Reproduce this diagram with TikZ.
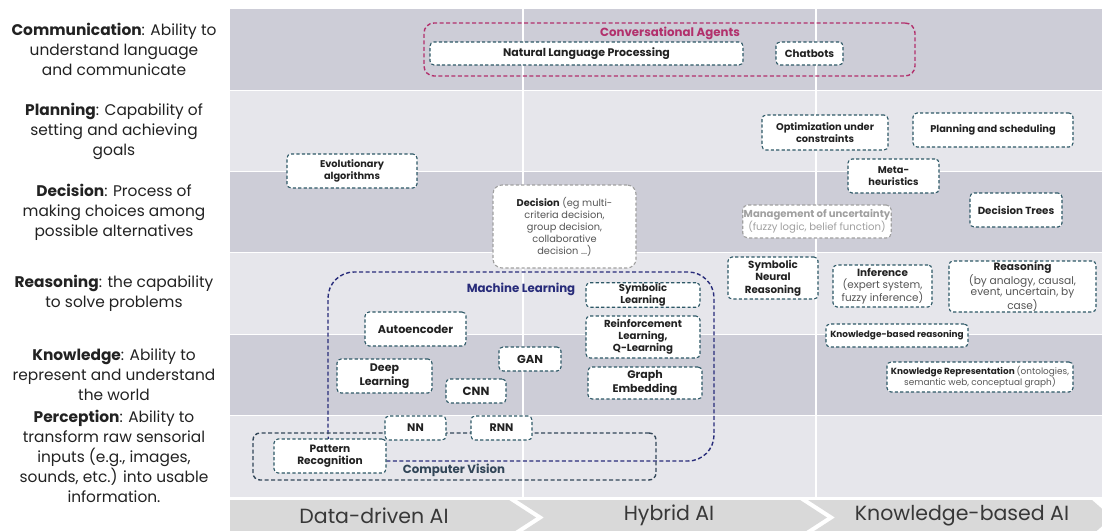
\documentclass[tikz,border=0pt]{standalone}
\usepackage{fontspec}
\setmainfont{Poppins}
\definecolor{rowdark}{RGB}{205,205,215}
\definecolor{rowlight}{RGB}{230,230,235}
\definecolor{teal}{RGB}{45,88,102}
\definecolor{agent}{RGB}{178,48,108}
\definecolor{mlnavy}{RGB}{40,44,122}
\definecolor{cvslate}{RGB}{50,70,88}
\definecolor{softgrey}{RGB}{160,160,160}
\definecolor{banner}{RGB}{217,217,217}
\definecolor{ink}{RGB}{34,34,34}
\definecolor{greyink}{RGB}{85,85,85}
\newcommand{\fs}[1]{\fontsize{#1}{1.2\dimexpr#1pt\relax}\selectfont}
\tikzset{
  tbox/.style={draw=teal, fill=white, dash pattern=on 3.2pt off 2.2pt, line width=1.1pt,
    rounded corners=4pt, align=center, inner sep=1pt, text=ink,
    font=\fontsize{9.8}{11.5}\selectfont\bfseries},
  sz/.style={font=\fs{#1}\bfseries},
  gbox/.style={tbox, draw=softgrey, rounded corners=9pt, font=\fontsize{9.8}{12}\selectfont, text=greyink},
  group/.style={dash pattern=on 4pt off 2.5pt, line width=1.4pt, rounded corners=10pt, inner sep=0pt},
  grouplbl/.style={font=\fontsize{11.8}{13}\selectfont\bfseries},
  sidetext/.style={align=center, text=ink, font=\fontsize{15.4}{20}\selectfont},
  bandtext/.style={text=ink!90, inner sep=0pt, font=\fontsize{20.5}{22}\selectfont},
}
\begin{document}
\begin{tikzpicture}[x=1pt,y=-1pt]
\useasboundingbox (0,0) rectangle (1102,530);
\clip (0,0) rectangle (1102,530);
\fill[white] (0,0) rectangle (1102,530);

% capability rows
\fill[rowdark]  (230,9)   rectangle (1102,89.5);
\fill[rowlight] (230,91)  rectangle (1102,170.5);
\fill[rowdark]  (230,172) rectangle (1102,251.5);
\fill[rowlight] (230,253) rectangle (1102,333.5);
\fill[rowdark]  (230,335) rectangle (1102,414.5);
\fill[rowlight] (230,416) rectangle (1102,497);
% column separators
\draw[white, line width=1.5pt] (523,9) -- (523,497);
\draw[white, line width=1.5pt] (816,9) -- (816,497);

% approach banner
\fill[banner] (230,500) -- (509,500) -- (536,517.5) -- (509,535) -- (230,535) -- cycle;
\fill[banner] (517,500) -- (800,500) -- (827,517.5) -- (800,535) -- (517,535) -- (544,517.5) -- cycle;
\fill[banner] (808,500) -- (1092,500) -- (1112,517.5) -- (1092,535) -- (808,535) -- (835,517.5) -- cycle;
\node[bandtext] (dd) at (374,515.5) {Data-driven AI};
\node[bandtext] (hy) at (669,515.5) {Hybrid AI};
\node[bandtext] (kb) at (962,515.5) {Knowledge-based AI};

% capability descriptions
\node[sidetext] (c1) at (114,49) {\textbf{Communication}: Ability to\\understand language\\and communicate};
\node[sidetext] (c2) at (114,131) {\textbf{Planning}: Capability of\\setting and achieving\\goals};
\node[sidetext] (c3) at (114,212) {\textbf{Decision}: Process of\\making choices among\\possible alternatives};
\node[sidetext] (c4) at (114,293) {\textbf{Reasoning}: the capability\\to solve problems};
\node[sidetext] (c5) at (114,375) {\textbf{Knowledge}: Ability to\\represent and understand\\the world};
\node[sidetext] (c6) at (114,456) {\textbf{Perception}: Ability to\\transform raw sensorial\\inputs (e.g., images,\\sounds, etc.) into usable\\information.};

% grouping frames
\node[group, draw=agent, minimum width=491pt, minimum height=53pt] (conv) at (669.5,49.5) {};
\node[grouplbl, text=agent] (convlbl) at (670,33) {Conversational Agents};
\node[group, draw=mlnavy, rounded corners=26pt, minimum width=386pt, minimum height=189pt] (ml) at (521,366.5) {};
\node[grouplbl, text=mlnavy] (mllbl) at (521,289) {Machine Learning};
\node[group, draw=cvslate, rounded corners=7pt, minimum width=403pt, minimum height=47pt] (cv) at (454.5,456.5) {};
\node[grouplbl, text=cvslate] (cvlbl) at (454,470.5) {Computer Vision};

% communication
\node[tbox, sz=11, minimum width=313pt, minimum height=23pt] (nlp) at (586.5,53.5) {Natural Language Processing};
\node[tbox, sz=10.3, minimum width=67pt, minimum height=23pt] (chat) at (809.5,53.5) {Chatbots};

% planning and decision
\node[tbox, minimum width=130pt, minimum height=34pt] (evo) at (352,171) {Evolutionary\\algorithms};
\node[tbox, minimum width=126pt, minimum height=35pt] (opt) at (825,132.5) {Optimization under\\constraints};
\node[tbox, minimum width=160pt, minimum height=34pt] (plan) at (993,130) {Planning and scheduling};
\node[tbox, minimum width=91pt, minimum height=34pt] (meta) at (893.5,176) {Meta-\\heuristics};
\node[tbox, sz=10.3, minimum width=92pt, minimum height=34pt] (dtree) at (1016,210) {Decision Trees};
\node[gbox, minimum width=143pt, minimum height=83pt] (dec) at (564.5,226.5)
  {\textcolor{ink}{\bfseries Decision} (eg multi-\\criteria decision,\\group decision,\\collaborative\\decision ...)};
\node[gbox, rounded corners=5pt, text=softgrey, minimum width=142pt, minimum height=33pt,
      font=\fontsize{10.1}{11.5}\selectfont] (unc) at (817,221.5)
  {\textbf{Management of uncertainty}\\(fuzzy logic, belief function)};

% reasoning and knowledge
\node[tbox, sz=10.3, minimum width=90pt, minimum height=42pt] (snr) at (773,278) {Symbolic\\Neural\\Reasoning};
\node[tbox, font=\fontsize{10.4}{12}\selectfont\bfseries, minimum width=99pt, minimum height=42pt] (inf) at (882.5,286)
  {Inference\\{\mdseries\color{greyink}(expert system,}\\{\mdseries\color{greyink}fuzzy inference)}};
\node[tbox, font=\fontsize{10.6}{11.1}\selectfont\bfseries, minimum width=147pt, minimum height=49pt] (reas) at (1022.5,286.5)
  {Reasoning\\{\mdseries\color{greyink}(by analogy, causal,}\\{\mdseries\color{greyink}event, uncertain, by}\\{\mdseries\color{greyink}case)}};
\node[tbox, minimum width=142pt, minimum height=23pt, font=\fontsize{8.9}{10}\selectfont\bfseries] (kbr) at (897,335.5) {Knowledge-based reasoning};
\node[tbox, minimum width=186pt, minimum height=30pt, font=\fontsize{8.9}{11.5}\selectfont\bfseries] (krep) at (980,377)
  {Knowledge Representation {\mdseries\color{greyink}(ontologies,}\\{\mdseries\color{greyink}semantic web, conceptual graph)}};

% machine learning family
\node[tbox, minimum width=114pt, minimum height=24pt, font=\fontsize{10}{10.5}\selectfont\bfseries] (syml) at (643,295) {Symbolic\\Learning};
\node[tbox, sz=10.2, minimum width=114pt, minimum height=42pt] (rl) at (643,337) {Reinforcement\\Learning,\\Q-Learning};
\node[tbox, font=\fontsize{11}{13.5}\selectfont\bfseries, minimum width=114pt, minimum height=32pt] (ge) at (645,383) {Graph\\Embedding};
\node[tbox, sz=11.2, minimum width=101pt, minimum height=34pt] (auto) at (415.5,329) {Autoencoder};
\node[tbox, sz=11.5, minimum width=62pt, minimum height=24pt] (gan) at (530,359) {GAN};
\node[tbox, font=\fontsize{11}{13.5}\selectfont\bfseries, minimum width=95pt, minimum height=34pt] (dl) at (384.5,376) {Deep\\Learning};
\node[tbox, sz=11.8, minimum width=60pt, minimum height=24pt] (cnn) at (476,391) {CNN};
\node[tbox, sz=11, minimum width=61pt, minimum height=24pt] (nn) at (415.5,428) {NN};
\node[tbox, sz=11, minimum width=61pt, minimum height=24pt] (rnn) at (501.5,428) {RNN};
\node[tbox, font=\fontsize{10.6}{12.5}\selectfont\bfseries, minimum width=112pt, minimum height=34pt] (pr) at (330,456) {Pattern\\Recognition};
\end{tikzpicture}
\end{document}
